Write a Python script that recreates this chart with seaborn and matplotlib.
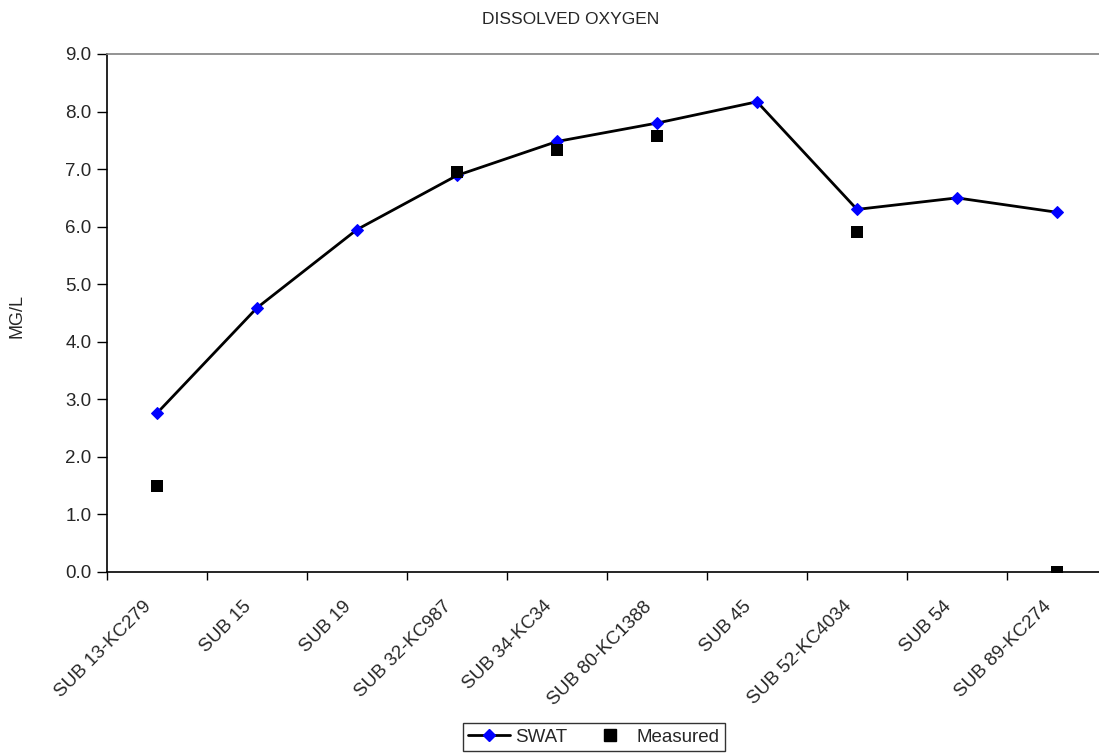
import numpy as np
import pandas as pd
import matplotlib
matplotlib.use("Agg")
import matplotlib.pyplot as plt
import matplotlib.transforms as mtransforms
import seaborn as sns
from matplotlib.lines import Line2D
from matplotlib.ticker import FormatStrFormatter, MultipleLocator, FixedLocator

categories = ["SUB 13-KC279", "SUB 15", "SUB 19", "SUB 32-KC987", "SUB 34-KC34",
              "SUB 80-KC1388", "SUB 45", "SUB 52-KC4034", "SUB 54", "SUB 89-KC274"]
swat = [2.76, 4.59, 5.95, 6.89, 7.48, 7.80, 8.17, 6.30, 6.50, 6.25]
measured = [1.50, np.nan, np.nan, 6.95, 7.34, 7.58, np.nan, 5.91, np.nan, 0.0]

sns.set_style("white")
plt.rcParams['font.family'] = ['Liberation Sans', 'DejaVu Sans']

df = pd.DataFrame({"site": categories, "SWAT": swat, "Measured": measured})

fig = plt.figure(figsize=(10.99, 7.53), dpi=100)
ax = fig.add_axes([107/1099, 1 - 572/753, 1000/1099, (572 - 54)/753])

sns.lineplot(data=df, x="site", y="SWAT", ax=ax, sort=False, color="black",
             linewidth=2.0, marker="D", markersize=6.5, markerfacecolor="#0000FF",
             markeredgecolor="#0000FF", label="SWAT", zorder=3)
sns.scatterplot(data=df.dropna(subset=["Measured"]), x="site", y="Measured", ax=ax,
                marker="s", s=80, color="black", edgecolor="black", linewidth=0,
                label="Measured", zorder=4)

ax.set_xlim(-0.5, len(categories) - 0.5)
ax.set_ylim(0, 9)
ax.yaxis.set_major_locator(MultipleLocator(1.0))
ax.yaxis.set_major_formatter(FormatStrFormatter("%.1f"))
ax.set_xticks(range(len(categories)))
ax.set_xticklabels(categories, rotation=45, ha="right", va="center",
                   rotation_mode="anchor", fontsize=13.5)
ax.xaxis.set_minor_locator(FixedLocator(np.arange(-0.5, len(categories), 1.0)))
ax.tick_params(axis="x", which="major", length=0, pad=23)
ax.tick_params(axis="x", which="minor", length=6, width=1, color="black", direction="out", bottom=True)
ax.tick_params(axis="y", which="major", length=7, width=1, color="black", direction="out", left=True, labelsize=13.5, pad=4)

shift = mtransforms.ScaledTranslation(-8/100, 0, fig.dpi_scale_trans)
for lbl in ax.get_xticklabels():
    lbl.set_transform(lbl.get_transform() + shift)

for side in ["left", "bottom"]:
    ax.spines[side].set_color("black")
    ax.spines[side].set_linewidth(1.2)
ax.spines["top"].set_color("#808080")
ax.spines["top"].set_linewidth(1.2)
ax.spines["right"].set_visible(False)

ax.set_xlabel("")
ax.set_ylabel("")
fig.text(17/1099, 1 - 316/753, "MG/L", rotation=90, ha="center", va="center", fontsize=13)
fig.text(571/1099, 1 - 20/753, "DISSOLVED OXYGEN", ha="center", va="center", fontsize=12.5)

handles = [Line2D([0], [0], color="black", linewidth=2.0, marker="D", markersize=6.5,
                  markerfacecolor="#0000FF", markeredgecolor="#0000FF"),
           Line2D([0], [0], linestyle="none", marker="s", markersize=9,
                  markerfacecolor="black", markeredgecolor="black")]
ax.get_legend().remove()
leg = fig.legend(handles, ["SWAT", "Measured"], loc="center", bbox_to_anchor=(594/1099, 1 - 737/753),
                 ncol=2, frameon=True, fontsize=13.5, fancybox=False, edgecolor="black",
                 handlelength=2.2, handletextpad=0.3, columnspacing=1.2, borderpad=0.3)
leg.get_frame().set_linewidth(1.0)

fig.savefig("out.png", dpi=100)
